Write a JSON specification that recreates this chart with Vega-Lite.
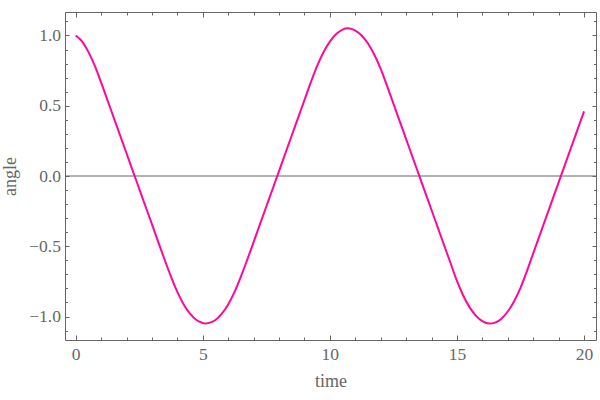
{
  "$schema": "https://vega.github.io/schema/vega-lite/v6.json",
  "width": 531,
  "height": 328,
  "autosize": {"type": "none"},
  "padding": {"left": 65, "top": 12, "right": 4, "bottom": 60},
  "background": "white",
  "config": {
    "view": {"stroke": "#666666", "strokeWidth": 1},
    "axis": {
      "labelFont": "Liberation Serif",
      "labelFontSize": 17.5,
      "labelColor": "#666666",
      "titleFont": "Liberation Serif",
      "titleFontSize": 18,
      "titleFontWeight": "normal",
      "titleColor": "#666666",
      "tickColor": "#666666",
      "tickWidth": 1,
      "domain": false,
      "grid": false
    }
  },
  "data": {
    "values": [
      {"t": 0, "angle": 1.0}, {"t": 0.25, "angle": 0.958}, {"t": 0.5, "angle": 0.883}, {"t": 0.75, "angle": 0.785},
      {"t": 1, "angle": 0.666}, {"t": 1.25, "angle": 0.54}, {"t": 1.5, "angle": 0.414}, {"t": 1.75, "angle": 0.288},
      {"t": 2, "angle": 0.162}, {"t": 2.25, "angle": 0.035}, {"t": 2.5, "angle": -0.091}, {"t": 2.75, "angle": -0.217},
      {"t": 3, "angle": -0.343}, {"t": 3.25, "angle": -0.47}, {"t": 3.5, "angle": -0.596}, {"t": 3.75, "angle": -0.716},
      {"t": 4, "angle": -0.825}, {"t": 4.25, "angle": -0.914}, {"t": 4.5, "angle": -0.98}, {"t": 4.75, "angle": -1.025},
      {"t": 5, "angle": -1.046}, {"t": 5.1, "angle": -1.05}, {"t": 5.25, "angle": -1.045}, {"t": 5.5, "angle": -1.025}, {"t": 5.75, "angle": -0.98},
      {"t": 6, "angle": -0.914}, {"t": 6.25, "angle": -0.825}, {"t": 6.5, "angle": -0.716}, {"t": 6.75, "angle": -0.596},
      {"t": 7, "angle": -0.47}, {"t": 7.25, "angle": -0.343}, {"t": 7.5, "angle": -0.217}, {"t": 7.75, "angle": -0.091},
      {"t": 8, "angle": 0.035}, {"t": 8.25, "angle": 0.162}, {"t": 8.5, "angle": 0.288}, {"t": 8.75, "angle": 0.414},
      {"t": 9, "angle": 0.54}, {"t": 9.25, "angle": 0.666}, {"t": 9.5, "angle": 0.783}, {"t": 9.75, "angle": 0.881},
      {"t": 10, "angle": 0.956}, {"t": 10.25, "angle": 1.01}, {"t": 10.5, "angle": 1.042}, {"t": 10.7, "angle": 1.051},
      {"t": 10.85, "angle": 1.047}, {"t": 11, "angle": 1.035}, {"t": 11.25, "angle": 1.0}, {"t": 11.5, "angle": 0.943}, {"t": 11.75, "angle": 0.863},
      {"t": 12, "angle": 0.762}, {"t": 12.25, "angle": 0.641}, {"t": 12.5, "angle": 0.515}, {"t": 12.75, "angle": 0.389},
      {"t": 13, "angle": 0.263}, {"t": 13.25, "angle": 0.136}, {"t": 13.5, "angle": 0.01}, {"t": 13.75, "angle": -0.116},
      {"t": 14, "angle": -0.242}, {"t": 14.25, "angle": -0.369}, {"t": 14.5, "angle": -0.495}, {"t": 14.75, "angle": -0.621},
      {"t": 15, "angle": -0.747}, {"t": 15.25, "angle": -0.852}, {"t": 15.5, "angle": -0.935}, {"t": 15.75, "angle": -0.995},
      {"t": 16, "angle": -1.033}, {"t": 16.28, "angle": -1.05}, {"t": 16.5, "angle": -1.043}, {"t": 16.75, "angle": -1.015},
      {"t": 17, "angle": -0.964}, {"t": 17.25, "angle": -0.891}, {"t": 17.5, "angle": -0.796}, {"t": 17.75, "angle": -0.678},
      {"t": 18, "angle": -0.55}, {"t": 18.25, "angle": -0.424}, {"t": 18.5, "angle": -0.298}, {"t": 18.75, "angle": -0.172},
      {"t": 19, "angle": -0.045}, {"t": 19.25, "angle": 0.081}, {"t": 19.5, "angle": 0.207}, {"t": 19.75, "angle": 0.333},
      {"t": 20, "angle": 0.46}
    ]
  },
  "layer": [
    {
      "data": {"values": [{"z": 0}]},
      "mark": {"type": "rule", "color": "#666666", "strokeWidth": 1},
      "encoding": {
        "y": {"field": "z", "type": "quantitative", "scale": {"domain": [-1.167, 1.167], "nice": false, "zero": false}, "axis": null}
      }
    },
    {
      "mark": {"type": "line", "strokeOpacity": 0},
      "encoding": {
        "x": {"field": "t", "type": "quantitative", "scale": {"domain": [-0.42, 20.47], "nice": false, "zero": false},
              "axis": {"orient": "bottom", "values": [1,2,3,4,6,7,8,9,11,12,13,14,16,17,18,19], "tickSize": -3, "labels": false, "title": null}},
        "y": {"field": "angle", "type": "quantitative", "scale": {"domain": [-1.167, 1.167], "nice": false, "zero": false},
              "axis": {"orient": "left", "values": [-1.1,-0.9,-0.8,-0.7,-0.6,-0.4,-0.3,-0.2,-0.1,0.1,0.2,0.3,0.4,0.6,0.7,0.8,0.9,1.1], "tickSize": -2.5, "labels": false, "title": null}}
      }
    },
    {
      "mark": {"type": "line", "strokeOpacity": 0},
      "encoding": {
        "x": {"field": "t", "type": "quantitative", "scale": {"domain": [-0.42, 20.47], "nice": false, "zero": false},
              "axis": {"orient": "top", "values": [0,5,10,15,20], "tickSize": -5, "labels": false, "title": null}},
        "y": {"field": "angle", "type": "quantitative", "scale": {"domain": [-1.167, 1.167], "nice": false, "zero": false},
              "axis": {"orient": "right", "values": [-1,-0.5,0,0.5,1], "tickSize": -4, "labels": false, "title": null}}
      }
    },
    {
      "mark": {"type": "line", "strokeOpacity": 0},
      "encoding": {
        "x": {"field": "t", "type": "quantitative", "scale": {"domain": [-0.42, 20.47], "nice": false, "zero": false},
              "axis": {"orient": "top", "values": [1,2,3,4,6,7,8,9,11,12,13,14,16,17,18,19], "tickSize": -3, "labels": false, "title": null}},
        "y": {"field": "angle", "type": "quantitative", "scale": {"domain": [-1.167, 1.167], "nice": false, "zero": false},
              "axis": {"orient": "right", "values": [-1.1,-0.9,-0.8,-0.7,-0.6,-0.4,-0.3,-0.2,-0.1,0.1,0.2,0.3,0.4,0.6,0.7,0.8,0.9,1.1], "tickSize": -2.5, "labels": false, "title": null}}
      }
    },
    {
      "mark": {"type": "line", "color": "#ff0899", "strokeWidth": 2, "interpolate": "monotone"},
      "encoding": {
        "x": {"field": "t", "type": "quantitative", "scale": {"domain": [-0.42, 20.47], "nice": false, "zero": false},
              "axis": {"orient": "bottom", "values": [0,5,10,15,20], "tickSize": -5, "labelPadding": 10, "title": "time", "titlePadding": 10}},
        "y": {"field": "angle", "type": "quantitative", "scale": {"domain": [-1.167, 1.167], "nice": false, "zero": false},
              "axis": {"orient": "left", "values": [-1,-0.5,0,0.5,1], "format": ".1f", "tickSize": -4, "labelPadding": 8.5, "title": "angle", "titlePadding": 9}}
      }
    }
  ],
  "resolve": {"axis": {"x": "independent", "y": "independent"}}
}
